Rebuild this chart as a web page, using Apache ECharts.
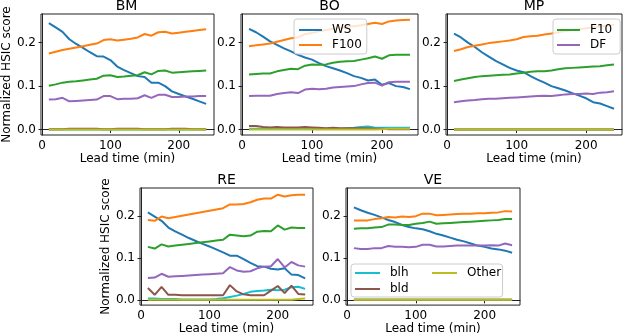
<!DOCTYPE html>
<html>
<head>
<meta charset="utf-8">
<script src="https://cdn.jsdelivr.net/npm/echarts@6/dist/echarts.min.js"></script>
<style>
  html, body { margin: 0; padding: 0; background: #ffffff; }
  #chart { width: 623px; height: 336px; }
</style>
</head>
<body>
<div id="chart"></div>
<script>
// lead times (min)
const leadTimes = [10, 20, 30, 40, 50, 60, 70, 80, 90, 100, 110, 120, 130, 140, 150, 160, 170, 180, 190, 200, 210, 220, 230, 240]
const xTicks = [0, 100, 200]
const yTicks = [0, 0.1, 0.2]
const varNames = ['WS', 'F100', 'F10', 'DF', 'blh', 'bld', 'Other']
const varColors = ['#1f77b4', '#ff7f0e', '#2ca02c', '#9467bd', '#17becf', '#8c564b', '#bcbd22']
const siteNames = ['BM', 'BO', 'MP', 'RE', 'VE']

// BM
const bm_ws = [0.245, 0.235, 0.225, 0.208, 0.197, 0.188, 0.178, 0.169, 0.168, 0.16, 0.145, 0.137, 0.13, 0.123, 0.121, 0.108, 0.108, 0.1, 0.088, 0.082, 0.076, 0.071, 0.065, 0.059]
const bm_f100 = [0.175, 0.179, 0.183, 0.186, 0.189, 0.192, 0.195, 0.198, 0.206, 0.208, 0.205, 0.207, 0.209, 0.212, 0.22, 0.216, 0.224, 0.225, 0.221, 0.223, 0.225, 0.227, 0.229, 0.231]
const bm_f10 = [0.101, 0.104, 0.108, 0.11, 0.111, 0.113, 0.115, 0.117, 0.124, 0.125, 0.121, 0.122, 0.124, 0.125, 0.132, 0.127, 0.135, 0.136, 0.131, 0.132, 0.133, 0.134, 0.135, 0.136]
const bm_df = [0.069, 0.07, 0.073, 0.065, 0.066, 0.067, 0.068, 0.069, 0.077, 0.077, 0.07, 0.071, 0.071, 0.072, 0.079, 0.073, 0.08, 0.08, 0.075, 0.075, 0.076, 0.076, 0.077, 0.077]
const bm_blh = [0, 0, 0, 0, 0, 0, 0, 0, 0, 0, 0, 0, 0, 0, 0, 0, 0, 0, 0, 0, 0, 0, 0, 0]
const bm_bld = [0.001, 0.001, 0.001, 0.002, 0.002, 0.002, 0.002, 0.002, 0.001, 0.001, 0.002, 0.002, 0.002, 0.002, 0.001, 0.001, 0.001, 0.001, 0.002, 0.002, 0.002, 0.001, 0.001, 0.001]
const bm_other = [0, 0, 0, 0, 0, 0, 0, 0, 0, 0, 0, 0, 0, 0, 0, 0, 0, 0, 0, 0, 0, 0, 0, 0]

// BO
const bo_ws = [0.232, 0.224, 0.214, 0.203, 0.195, 0.187, 0.18, 0.172, 0.166, 0.161, 0.153, 0.146, 0.141, 0.136, 0.13, 0.123, 0.119, 0.113, 0.115, 0.103, 0.107, 0.1, 0.098, 0.093]
const bo_f100 = [0.192, 0.194, 0.196, 0.198, 0.202, 0.206, 0.21, 0.212, 0.22, 0.222, 0.226, 0.229, 0.232, 0.234, 0.236, 0.238, 0.24, 0.243, 0.246, 0.243, 0.249, 0.251, 0.252, 0.253]
const bo_f10 = [0.127, 0.128, 0.129, 0.129, 0.134, 0.137, 0.14, 0.139, 0.147, 0.15, 0.149, 0.15, 0.154, 0.156, 0.157, 0.158, 0.161, 0.164, 0.168, 0.163, 0.171, 0.172, 0.172, 0.172]
const bo_df = [0.077, 0.078, 0.078, 0.078, 0.082, 0.084, 0.086, 0.084, 0.092, 0.094, 0.093, 0.094, 0.097, 0.098, 0.099, 0.1, 0.104, 0.107, 0.108, 0.101, 0.109, 0.11, 0.11, 0.11]
const bo_blh = [0.002, 0.002, 0.002, 0.002, 0.002, 0.002, 0.002, 0.002, 0.002, 0.002, 0.002, 0.002, 0.002, 0.002, 0.003, 0.004, 0.006, 0.007, 0.004, 0.004, 0.004, 0.004, 0.004, 0.004]
const bo_bld = [0.008, 0.008, 0.006, 0.005, 0.006, 0.005, 0.005, 0.005, 0.006, 0.005, 0.004, 0.003, 0.004, 0.003, 0.003, 0.003, 0.003, 0.003, 0.002, 0.002, 0.001, 0.001, 0.001, 0.001]
const bo_other = [0, 0, 0, 0, 0, 0, 0, 0, 0, 0, 0, 0, 0, 0, 0, 0, 0, 0, 0, 0.001, 0.002, 0.002, 0.002, 0.002]

// MP
const mp_ws = [0.221, 0.212, 0.2, 0.19, 0.178, 0.168, 0.158, 0.15, 0.142, 0.136, 0.132, 0.123, 0.115, 0.108, 0.1, 0.095, 0.09, 0.084, 0.078, 0.072, 0.063, 0.06, 0.054, 0.048]
const mp_f100 = [0.181, 0.185, 0.19, 0.193, 0.196, 0.199, 0.201, 0.203, 0.205, 0.208, 0.213, 0.215, 0.216, 0.219, 0.221, 0.224, 0.227, 0.229, 0.231, 0.233, 0.235, 0.237, 0.239, 0.241]
const mp_f10 = [0.112, 0.115, 0.118, 0.121, 0.123, 0.124, 0.125, 0.126, 0.127, 0.129, 0.131, 0.133, 0.134, 0.134, 0.136, 0.139, 0.141, 0.142, 0.143, 0.144, 0.145, 0.146, 0.148, 0.15]
const mp_df = [0.063, 0.065, 0.067, 0.068, 0.07, 0.071, 0.071, 0.072, 0.073, 0.074, 0.075, 0.076, 0.077, 0.078, 0.077, 0.079, 0.081, 0.082, 0.082, 0.083, 0.082, 0.085, 0.086, 0.088]
const mp_blh = [0, 0, 0, 0, 0, 0, 0, 0, 0, 0, 0, 0, 0, 0, 0, 0, 0, 0, 0, 0, 0, 0, 0, 0]
const mp_bld = [0, 0, 0, 0, 0, 0, 0, 0, 0, 0, 0, 0, 0, 0, 0, 0, 0, 0, 0, 0, 0, 0, 0, 0]
const mp_other = [0, 0, 0, 0, 0, 0, 0, 0, 0, 0, 0, 0, 0, 0, 0, 0, 0, 0, 0, 0, 0, 0, 0, 0]

// RE
const re_ws = [0.208, 0.198, 0.188, 0.172, 0.163, 0.155, 0.147, 0.14, 0.133, 0.127, 0.12, 0.113, 0.105, 0.105, 0.097, 0.088, 0.08, 0.079, 0.074, 0.072, 0.075, 0.06, 0.059, 0.051]
const re_f100 = [0.19, 0.188, 0.198, 0.194, 0.197, 0.2, 0.203, 0.206, 0.209, 0.212, 0.215, 0.218, 0.227, 0.227, 0.228, 0.232, 0.238, 0.241, 0.241, 0.25, 0.246, 0.249, 0.25, 0.25]
const re_f10 = [0.126, 0.122, 0.132, 0.127, 0.129, 0.131, 0.133, 0.135, 0.137, 0.139, 0.141, 0.143, 0.155, 0.153, 0.151, 0.153, 0.162, 0.164, 0.163, 0.177, 0.167, 0.172, 0.171, 0.171]
const re_df = [0.052, 0.053, 0.062, 0.055, 0.056, 0.057, 0.058, 0.059, 0.06, 0.061, 0.062, 0.063, 0.078, 0.07, 0.067, 0.068, 0.075, 0.079, 0.08, 0.097, 0.077, 0.09, 0.082, 0.079]
const re_blh = [0.003, 0.003, 0.002, 0.002, 0.002, 0.001, 0.001, 0.001, 0.001, 0.001, 0.002, 0.004, 0.007, 0.01, 0.014, 0.019, 0.021, 0.022, 0.024, 0.023, 0.024, 0.03, 0.031, 0.026]
const re_bld = [0.028, 0.012, 0.031, 0.012, 0.012, 0.011, 0.011, 0.011, 0.011, 0.011, 0.011, 0.011, 0.035, 0.02, 0.013, 0.011, 0.011, 0.011, 0.022, 0.033, 0.016, 0.034, 0.014, 0.013]
const re_other = [0, 0, 0, 0, 0, 0, 0, 0, 0, 0, 0, 0, 0, 0, 0, 0, 0, 0, 0, 0, 0, 0, 0.002, 0.003]

// VE
const ve_ws = [0.22, 0.213, 0.207, 0.202, 0.196, 0.19, 0.185, 0.178, 0.173, 0.17, 0.168, 0.163, 0.157, 0.153, 0.148, 0.143, 0.139, 0.134, 0.129, 0.126, 0.122, 0.12, 0.117, 0.112]
const ve_f100 = [0.189, 0.189, 0.189, 0.192, 0.194, 0.197, 0.196, 0.198, 0.197, 0.199, 0.205, 0.205, 0.201, 0.202, 0.203, 0.204, 0.205, 0.205, 0.206, 0.206, 0.207, 0.208, 0.211, 0.21]
const ve_f10 = [0.169, 0.17, 0.17, 0.172, 0.173, 0.179, 0.179, 0.178, 0.178, 0.181, 0.183, 0.186, 0.181, 0.182, 0.183, 0.184, 0.185, 0.186, 0.187, 0.188, 0.189, 0.19, 0.192, 0.192]
const ve_df = [0.123, 0.121, 0.121, 0.123, 0.123, 0.128, 0.126, 0.126, 0.125, 0.126, 0.131, 0.131, 0.127, 0.127, 0.128, 0.129, 0.129, 0.129, 0.129, 0.129, 0.13, 0.129, 0.134, 0.13]
const ve_blh = [0, 0, 0, 0, 0, 0, 0, 0, 0, 0, 0, 0, 0, 0, 0, 0, 0, 0, 0, 0, 0, 0, 0, 0]
const ve_bld = [0, 0, 0, 0, 0, 0, 0, 0, 0, 0, 0, 0, 0, 0, 0, 0, 0, 0, 0, 0, 0, 0, 0, 0]
const ve_other = [0, 0, 0, 0, 0, 0, 0, 0, 0, 0, 0, 0, 0, 0, 0, 0, 0, 0, 0, 0, 0, 0, 0, 0]

const siteData = [
  [bm_ws, bm_f100, bm_f10, bm_df, bm_blh, bm_bld, bm_other],
  [bo_ws, bo_f100, bo_f10, bo_df, bo_blh, bo_bld, bo_other],
  [mp_ws, mp_f100, mp_f10, mp_df, mp_blh, mp_bld, mp_other],
  [re_ws, re_f100, re_f10, re_df, re_blh, re_bld, re_other],
  [ve_ws, ve_f100, ve_f10, ve_df, ve_blh, ve_bld, ve_other],
]

// panel placement (px)
const grids = [
  { left: 39, top: 14, width: 175, height: 121 },
  { left: 241, top: 14, width: 177, height: 121 },
  { left: 446, top: 14, width: 176, height: 121 },
  { left: 140, top: 188, width: 173, height: 120 },
  { left: 346, top: 188, width: 174, height: 120 },
]

const font = 'DejaVu Sans'
const axisColor = '#222222'

const chart = echarts.init(document.getElementById('chart'))

const xAxes = []
const yAxes = []
const series = []
const titles = []

grids.forEach((g, i) => {
  titles.push({
    text: siteNames[i],
    left: g.left + g.width / 2,
    top: g.top - 15,
    textAlign: 'center',
    padding: 0,
    textStyle: { fontFamily: font, fontSize: 14, fontWeight: 'normal', color: '#000' },
  })
  xAxes.push({
    type: 'value',
    gridIndex: i,
    min: -1.5,
    max: 251.5,
    name: 'Lead time (min)',
    nameLocation: 'middle',
    nameGap: 14,
    nameTextStyle: { fontFamily: font, fontSize: 12, color: '#000', verticalAlign: 'top' },
    axisLine: { show: true, lineStyle: { color: axisColor, width: 1 } },
    axisTick: { show: true, inside: false, length: 3.5, customValues: xTicks, lineStyle: { color: axisColor } },
    axisLabel: { customValues: xTicks, margin: 5, fontFamily: font, fontSize: 12, color: '#000' },
    splitLine: { show: false },
  })
  yAxes.push({
    type: 'value',
    gridIndex: i,
    min: -0.0125,
    max: 0.266,
    name: i === 0 || i === 3 ? 'Normalized HSIC score' : '',
    nameLocation: 'middle',
    nameGap: 25,
    nameTextStyle: { fontFamily: font, fontSize: 12, color: '#000' },
    axisLine: { show: true, lineStyle: { color: axisColor, width: 1 } },
    axisTick: { show: true, inside: false, length: 3.5, customValues: yTicks, lineStyle: { color: axisColor } },
    axisLabel: {
      customValues: yTicks,
      margin: 5,
      fontFamily: font,
      fontSize: 12,
      color: '#000',
      formatter: (v) => v.toFixed(1),
    },
    splitLine: { show: false },
  })
  siteData[i].forEach((vals, k) => {
    series.push({
      name: varNames[k],
      type: 'line',
      xAxisIndex: i,
      yAxisIndex: i,
      data: leadTimes.map((t, j) => [t, vals[j]]),
      symbol: 'none',
      lineStyle: { width: 2, color: varColors[k] },
      itemStyle: { color: varColors[k] },
      z: 2 + k * 0.01,
    })
  })
})

const legendBase = {
  orient: 'vertical',
  icon: 'rect',
  itemWidth: 23,
  itemHeight: 2,
  itemGap: 3,
  backgroundColor: 'rgba(255,255,255,0.8)',
  borderColor: '#cccccc',
  borderWidth: 1,
  borderRadius: 3,
  textStyle: { fontFamily: font, fontSize: 12, color: '#000', padding: [0, 0, 0, 5] },
  selectedMode: false,
}

chart.setOption({
  animation: false,
  textStyle: { fontFamily: font },
  title: titles,
  grid: grids.map((g) => ({ ...g, show: true, borderColor: axisColor, borderWidth: 1, backgroundColor: 'transparent' })),
  xAxis: xAxes,
  yAxis: yAxes,
  legend: [
    { ...legendBase, data: ['WS', 'F100'], left: 294, top: 19, padding: [5, 5, 3, 5] },
    { ...legendBase, data: ['F10', 'DF'], left: 553, top: 19, padding: [5, 8, 3, 4] },
    { ...legendBase, data: ['blh', 'bld'], left: 351, top: 264, itemWidth: 25, itemGap: 4, padding: [3, 94, 2, 4] },
    { ...legendBase, data: ['Other'], left: 432, top: 267, itemWidth: 25, backgroundColor: 'transparent', borderWidth: 0, padding: 0, z: 6 },
  ],
  series: series,
})
</script>
</body>
</html>
